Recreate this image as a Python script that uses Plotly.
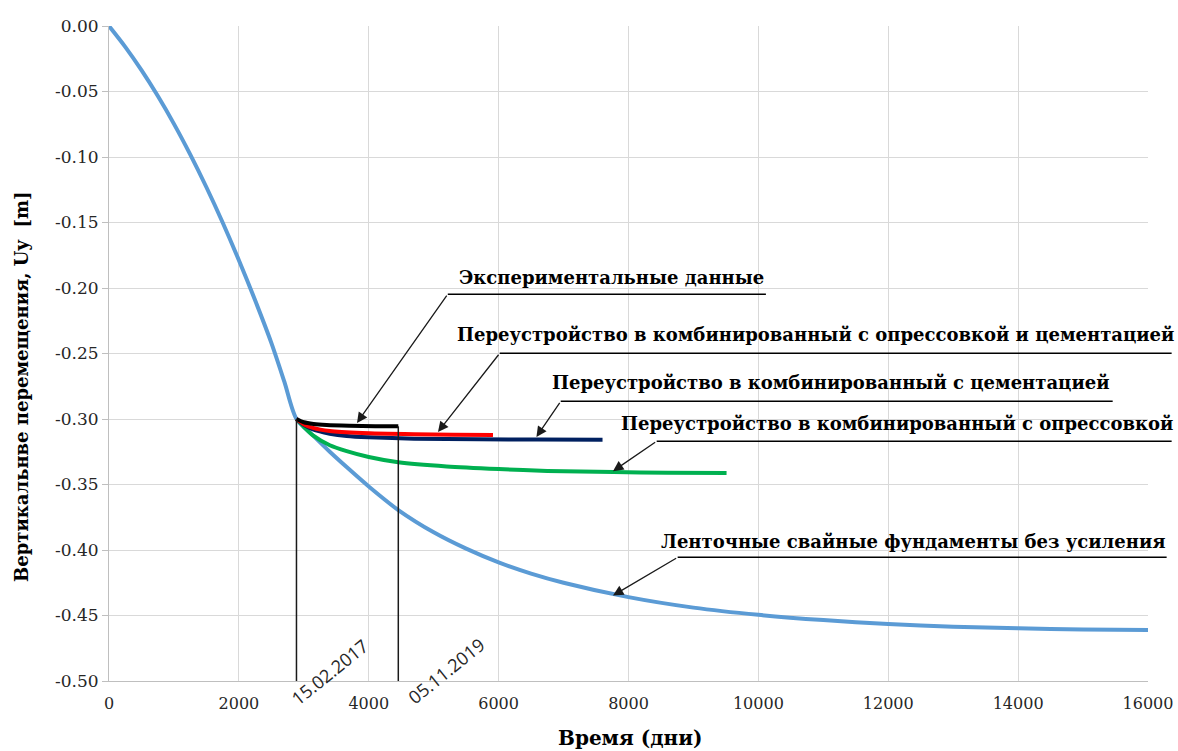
import plotly.graph_objects as go

# ---------------- data ----------------
days_base = [0, 250, 500, 750, 1000, 1250, 1500, 1750, 2000, 2250, 2500, 2700, 2887,
             3140, 3400, 3655, 4000, 4455, 5000, 5500, 6000, 6500, 7000, 8000, 9000, 10000,
             11000, 12000, 13000, 14000, 15000, 16000]
u_base = [0.0, -0.0159, -0.0337, -0.0533, -0.0747, -0.0980, -0.1231, -0.1500, -0.1788,
          -0.2094, -0.2419, -0.2715, -0.3000,
          -0.3125, -0.3250, -0.3365, -0.3515, -0.3695, -0.3865, -0.3990, -0.4095, -0.4180,
          -0.4250, -0.4360, -0.4440, -0.4495, -0.4535, -0.4565, -0.4585, -0.4598, -0.4606,
          -0.4610]

days_exp = [2887, 3000, 3150, 3350, 3700, 4100, 4455]
u_exp = [-0.300, -0.3025, -0.3038, -0.3046, -0.3052, -0.3055, -0.3056]

days_red = [2887, 3000, 3140, 3400, 3900, 4700, 5300, 5913]
u_red = [-0.300, -0.3040, -0.3068, -0.3092, -0.3107, -0.3116, -0.3120, -0.3122]

days_navy = [2887, 3000, 3140, 3400, 3660, 4000, 4700, 5700, 6600, 7600]
u_navy = [-0.300, -0.3045, -0.3080, -0.3112, -0.3130, -0.3140, -0.3150, -0.3155, -0.3157, -0.3158]

days_green = [2887, 3000, 3140, 3400, 3660, 4000, 4455, 5200, 6000, 6750, 7770, 8600, 9510]
u_green = [-0.300, -0.306, -0.3125, -0.320, -0.3245, -0.329, -0.333, -0.3362, -0.3382,
           -0.3396, -0.3405, -0.3410, -0.3413]

marker_days = [2887, 4455]
marker_tops = [-0.300, -0.3056]
marker_dates = ["15.02.2017", "05.11.2019"]

labels = [
    "Экспериментальные данные",
    "Переустройство в комбинированный с опрессовкой и цементацией",
    "Переустройство в комбинированный с цементацией",
    "Переустройство в комбинированный с опрессовкой",
    "Ленточные свайные фундаменты без усиления",
]

x_ticks = list(range(0, 16001, 2000))
x_tick_text = [str(v) for v in x_ticks]
y_ticks = [round(-0.05 * i, 2) for i in range(11)]
y_tick_text = ["%.2f" % v if v != 0 else "0.00" for v in y_ticks]

# ------------- label geometry (data units) -------------
lab_text_xy = [(7741, -0.1917), (10884, -0.2353), (11113, -0.2720), (12129, -0.3033), (12384, -0.3934)]
lab_line = [(5217, 10116, -0.2047), (6017, 16364, -0.2498), (6956, 15456, -0.2865),
            (8434, 16364, -0.3170), (8757, 16287, -0.4056)]
lab_tip = [(3819, -0.3030), (5066, -0.3100), (6582, -0.3137), (7761, -0.3398), (7761, -0.4347)]
date_xy = [(3399, -0.4935), (5185, -0.4920)]

XMIN, XMAX, YMIN, YMAX = 0, 16000, -0.5, 0.0


def xp(d):
    return (d - XMIN) / (XMAX - XMIN)


def yp(v):
    return (v - YMIN) / (YMAX - YMIN)


fig = go.Figure()

LW = 4
fig.add_trace(go.Scatter(x=days_base, y=u_base, mode="lines",
                         line=dict(color="#5B9BD5", width=LW, shape="spline", smoothing=0.8)))
fig.add_trace(go.Scatter(x=days_green, y=u_green, mode="lines",
                         line=dict(color="#00B050", width=LW, shape="spline", smoothing=0.6)))
fig.add_trace(go.Scatter(x=days_navy, y=u_navy, mode="lines",
                         line=dict(color="#002060", width=LW, shape="spline", smoothing=0.6)))
fig.add_trace(go.Scatter(x=days_red, y=u_red, mode="lines",
                         line=dict(color="#FF0000", width=LW, shape="spline", smoothing=0.6)))
fig.add_trace(go.Scatter(x=days_exp, y=u_exp, mode="lines",
                         line=dict(color="#000000", width=LW, shape="spline", smoothing=0.6)))
for d, top in zip(marker_days, marker_tops):
    fig.add_trace(go.Scatter(x=[d, d], y=[top, YMIN], mode="lines",
                             line=dict(color="#1a1a1a", width=1.5), cliponaxis=False))

LABEL_FONT = dict(family="DejaVu Serif", size=18, color="#000000")
shapes = []
annotations = []
for txt, (tx, ty), (x0, x1, ly), (px_, py_) in zip(labels, lab_text_xy, lab_line, lab_tip):
    annotations.append(dict(x=xp(tx), y=yp(ty), xref="paper", yref="paper", text="<b>%s</b>" % txt,
                            showarrow=False, font=LABEL_FONT, xanchor="center", yanchor="middle"))
    shapes.append(dict(type="line", xref="paper", yref="paper", x0=xp(x0), x1=xp(x1),
                       y0=yp(ly), y1=yp(ly), line=dict(color="#000000", width=1.5)))
    annotations.append(dict(x=px_, y=py_, xref="x", yref="y", ax=x0, ay=ly, axref="x", ayref="y",
                            text="", showarrow=True, arrowhead=2, arrowsize=1.6, arrowwidth=1.3,
                            arrowcolor="#1a1a1a", standoff=0))

for txt, (dx, dy) in zip(marker_dates, date_xy):
    annotations.append(dict(x=xp(dx), y=yp(dy), xref="paper", yref="paper", text=txt,
                            showarrow=False, textangle=-39,
                            font=dict(family="Open Sans", size=18, color="#262626"),
                            xanchor="center", yanchor="middle"))

annotations.append(dict(x=xp(8030), y=-0.087, xref="paper", yref="paper", text="<b>Время (дни)</b>",
                        showarrow=False, font=dict(family="DejaVu Serif", size=20, color="#000"),
                        xanchor="center", yanchor="middle"))
annotations.append(dict(x=-0.0837, y=0.449, xref="paper", yref="paper",
                        text="<b>Вертикальнве перемещения, Uy  [m]</b>", textangle=-90,
                        showarrow=False, font=dict(family="DejaVu Serif", size=18, color="#000"),
                        xanchor="center", yanchor="middle"))

fig.update_layout(
    width=1178, height=751,
    margin=dict(l=109, r=30, t=26, b=70, autoexpand=False),
    paper_bgcolor="white", plot_bgcolor="white",
    showlegend=False,
    shapes=shapes, annotations=annotations,
    xaxis=dict(range=[XMIN, XMAX], tickvals=x_ticks, ticktext=x_tick_text, showgrid=True,
               gridcolor="#D9D9D9", gridwidth=1, showline=True, linecolor="#BFBFBF", linewidth=1,
               zeroline=False, ticks="", ticklabelstandoff=8, automargin=False,
               tickfont=dict(family="DejaVu Serif", size=16, color="#262626")),
    yaxis=dict(range=[YMIN, YMAX], tickvals=y_ticks, ticktext=y_tick_text, showgrid=True,
               gridcolor="#D9D9D9", gridwidth=1, showline=True, linecolor="#BFBFBF", linewidth=1,
               zeroline=False, ticks="outside", ticklen=6, tickcolor="#BFBFBF", automargin=False,
               tickfont=dict(family="DejaVu Serif", size=17, color="#262626")),
)

fig.write_html("out.html")
